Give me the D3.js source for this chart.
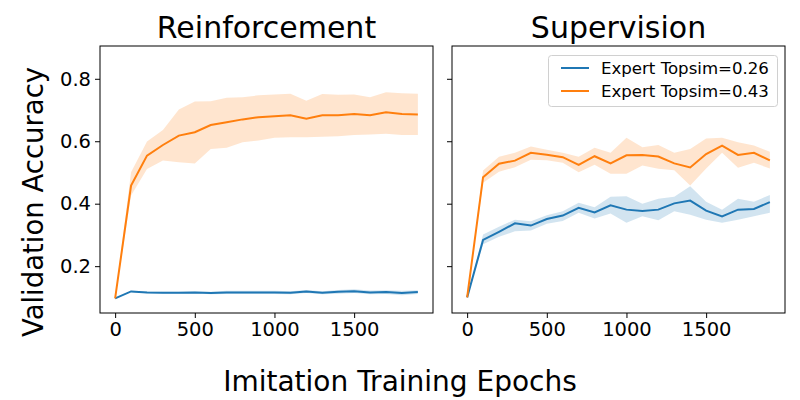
<!DOCTYPE html>
<html><head><meta charset="utf-8">
<script src="https://cdn.jsdelivr.net/npm/d3@7"></script>
<style>body{margin:0;background:#fff}svg{font-family:"DejaVu Sans",sans-serif}</style>
</head><body><svg id="c" width="800" height="400"></svg>
<script>
const epochs = [0,100,200,300,400,500,600,700,800,900,1000,1100,1200,1300,1400,1500,1600,1700,1800,1900];
const seriesNames = ["Expert Topsim=0.26","Expert Topsim=0.43"];
const panelTitles = ["Reinforcement","Supervision"];
const xTicks = [0,500,1000,1500];
const yTicks = [0.2,0.4,0.6,0.8];

// Reinforcement
const rlBlueMean = [0.097,0.119,0.116,0.115,0.115,0.116,0.114,0.116,0.116,0.116,0.116,0.115,0.119,0.115,0.118,0.120,0.116,0.117,0.114,0.117];
const rlBlueLo   = [0.097,0.117,0.113,0.112,0.112,0.113,0.110,0.111,0.111,0.111,0.111,0.110,0.114,0.110,0.112,0.114,0.110,0.111,0.107,0.111];
const rlBlueHi   = [0.097,0.121,0.119,0.118,0.118,0.119,0.118,0.121,0.121,0.121,0.121,0.120,0.124,0.120,0.124,0.126,0.122,0.123,0.121,0.123];
const rlOrangeMean = [0.097,0.458,0.554,0.588,0.618,0.629,0.652,0.661,0.670,0.677,0.680,0.683,0.672,0.683,0.683,0.687,0.683,0.693,0.687,0.686];
const rlOrangeLo   = [0.097,0.426,0.511,0.538,0.533,0.529,0.575,0.579,0.597,0.602,0.611,0.613,0.613,0.614,0.616,0.620,0.622,0.624,0.620,0.620];
const rlOrangeHi   = [0.097,0.501,0.599,0.636,0.702,0.727,0.728,0.739,0.741,0.747,0.750,0.752,0.730,0.751,0.749,0.750,0.741,0.757,0.754,0.752];

// Supervision
const svBlueMean = [0.100,0.284,0.310,0.337,0.330,0.351,0.362,0.387,0.372,0.395,0.381,0.377,0.381,0.401,0.410,0.378,0.359,0.381,0.383,0.405];
const svBlueLo   = [0.100,0.270,0.294,0.312,0.314,0.336,0.345,0.371,0.353,0.369,0.339,0.360,0.347,0.376,0.365,0.349,0.339,0.349,0.360,0.371];
const svBlueHi   = [0.100,0.301,0.326,0.349,0.344,0.363,0.376,0.403,0.389,0.422,0.424,0.400,0.416,0.422,0.456,0.406,0.381,0.416,0.406,0.428];
const svOrangeMean = [0.100,0.485,0.528,0.538,0.563,0.557,0.549,0.524,0.552,0.529,0.555,0.556,0.551,0.529,0.516,0.559,0.586,0.556,0.563,0.539];
const svOrangeLo   = [0.100,0.467,0.502,0.517,0.541,0.539,0.531,0.501,0.525,0.496,0.496,0.522,0.512,0.507,0.458,0.513,0.563,0.515,0.531,0.513];
const svOrangeHi   = [0.100,0.506,0.550,0.563,0.583,0.573,0.563,0.550,0.579,0.563,0.611,0.581,0.588,0.563,0.575,0.609,0.611,0.597,0.586,0.566];

const colors = ["#1f77b4","#ff7f0e"];
const panels = [
  {title: panelTitles[0], left:100, right:433, series:[
    {mean:rlBlueMean, lo:rlBlueLo, hi:rlBlueHi},
    {mean:rlOrangeMean, lo:rlOrangeLo, hi:rlOrangeHi}], yLabels:true, legend:false},
  {title: panelTitles[1], left:452, right:785, series:[
    {mean:svBlueMean, lo:svBlueLo, hi:svBlueHi},
    {mean:svOrangeMean, lo:svOrangeLo, hi:svOrangeHi}], yLabels:false, legend:true}
];
const plotTop = 46, plotBottom = 313;
const svg = d3.select("#c");
const y = d3.scaleLinear().domain([0.05,0.905]).range([plotBottom, plotTop]);

panels.forEach(p => {
  const x = d3.scaleLinear().domain([-95,1995]).range([p.left, p.right]);
  const g = svg.append("g");
  const clipId = "clip" + p.left;
  svg.append("clipPath").attr("id", clipId).append("rect")
    .attr("x", p.left).attr("y", plotTop).attr("width", p.right-p.left).attr("height", plotBottom-plotTop);
  const plot = g.append("g").attr("clip-path", `url(#${clipId})`);
  p.series.forEach((s, i) => {
    const area = d3.area().x((d,j)=>x(epochs[j])).y0((d,j)=>y(s.lo[j])).y1((d,j)=>y(s.hi[j]));
    plot.append("path").attr("d", area(epochs)).attr("fill", colors[i]).attr("fill-opacity", 0.2);
  });
  p.series.forEach((s, i) => {
    const line = d3.line().x((d,j)=>x(epochs[j])).y((d,j)=>y(s.mean[j]));
    plot.append("path").attr("d", line(epochs)).attr("fill","none").attr("stroke", colors[i]).attr("stroke-width", 2);
  });
  const xa = g.append("g").attr("transform", `translate(0,${plotBottom})`)
    .call(d3.axisBottom(x).tickValues(xTicks).tickSize(5).tickPadding(4).tickFormat(d3.format("d")));
  const ya = g.append("g").attr("transform", `translate(${p.left},0)`)
    .call(d3.axisLeft(y).tickValues(yTicks).tickSize(5).tickPadding(4).tickFormat(p.yLabels ? d3.format(".1f") : ""));
  [xa, ya].forEach(a => {
    a.select(".domain").remove();
    a.selectAll("text").attr("font-size", 19.5).attr("fill","#000").attr("font-family","DejaVu Sans");
    a.selectAll("line").attr("stroke","#000").attr("stroke-width",1);
  });
  g.append("rect").attr("x", p.left).attr("y", plotTop).attr("width", p.right-p.left).attr("height", plotBottom-plotTop)
    .attr("fill","none").attr("stroke","#000").attr("stroke-width",1);
  g.append("text").attr("x", (p.left+p.right)/2).attr("y", 38).attr("text-anchor","middle")
    .attr("font-size", 30).text(p.title);
  if (p.legend) {
    const lg = g.append("g");
    lg.append("rect").attr("x", 548.5).attr("y", 55.5).attr("width", 229).attr("height", 51).attr("rx", 3)
      .attr("fill","#fff").attr("fill-opacity",0.8).attr("stroke","#d0d0d0");
    seriesNames.forEach((n, i) => {
      const yy = 68 + i*23;
      lg.append("line").attr("x1", 561).attr("x2", 589).attr("y1", yy).attr("y2", yy)
        .attr("stroke", colors[i]).attr("stroke-width", 2);
      lg.append("text").attr("x", 601).attr("y", yy).attr("dy","0.35em").attr("font-size", 16.6).text(n);
    });
  }
});
svg.append("text").attr("x", 400).attr("y", 391).attr("text-anchor","middle").attr("font-size", 28).text("Imitation Training Epochs");
svg.append("text").attr("transform","translate(43,202) rotate(-90)").attr("text-anchor","middle").attr("font-size", 27.5).text("Validation Accuracy");
</script></body></html>
